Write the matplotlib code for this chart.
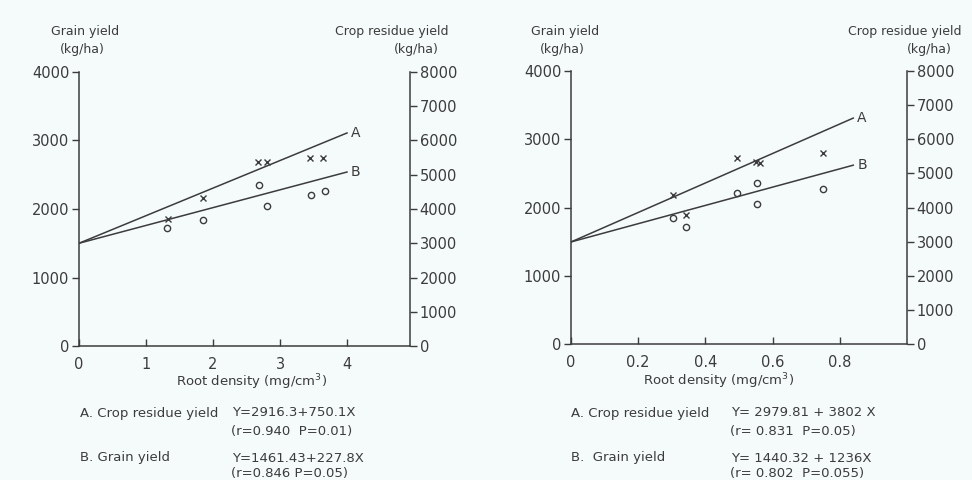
import numpy as np
import matplotlib
matplotlib.use('Agg')
import matplotlib.pyplot as plt

# ---- data ----
# left panel: root density (mg/cm3) over the full profile
left_x_res = [1.33, 1.85, 2.67, 2.81, 3.45, 3.64]
left_residue = [3710, 4320, 5370, 5370, 5490, 5490]
left_x_grain = [1.31, 1.85, 2.69, 2.81, 3.46, 3.67]
left_grain = [1720, 1840, 2350, 2040, 2200, 2260]
left_lineA_x = [0, 4.0]
left_lineA_y = [3000, 6220]     # crop residue (right axis)
left_lineB_x = [0, 4.0]
left_lineB_y = [1500, 2540]     # grain (left axis)

# right panel
right_x_res = [0.305, 0.343, 0.493, 0.552, 0.562, 0.75]
right_residue = [4360, 3780, 5450, 5330, 5290, 5590]
right_x_grain = [0.305, 0.343, 0.493, 0.555, 0.555, 0.75]
right_grain = [1845, 1715, 2210, 2360, 2050, 2270]
right_lineA_x = [0, 0.84]
right_lineA_y = [2990, 6620]
right_lineB_x = [0, 0.84]
right_lineB_y = [1495, 2620]

left_xticks = [0, 1, 2, 3, 4]
left_xticklabels = ['0', '1', '2', '3', '4']
right_xticks = [0, 0.2, 0.4, 0.6, 0.8]
right_xticklabels = ['0', '0.2', '0.4', '0.6', '0.8']
grain_ticks = [0, 1000, 2000, 3000, 4000]
residue_ticks = [0, 1000, 2000, 3000, 4000, 5000, 6000, 7000, 8000]

left_eqs = [('A. Crop residue yield', 'Y=2916.3+750.1X', '(r=0.940  P=0.01)'),
            ('B. Grain yield', 'Y=1461.43+227.8X', '(r=0.846 P=0.05)')]
right_eqs = [('A. Crop residue yield', 'Y= 2979.81 + 3802 X', '(r= 0.831  P=0.05)'),
             ('B.  Grain yield', 'Y= 1440.32 + 1236X', '(r= 0.802  P=0.055)')]

ink = '#3c3c3c'
bg = '#f5fafa'
W, H = 972, 480

fig = plt.figure(figsize=(9.72, 4.8), dpi=100)
fig.patch.set_facecolor(bg)


def ftext(x, y, s, **kw):
    # place text using pixel coords of the reference
    fig.text(x / W, 1 - y / H, s, color=ink, va='center', **kw)


def panel(rect, xmax, xticks, xticklabels, xr, yr, xg, yg, ax_, ay_, bx_, by_):
    ax = fig.add_axes(rect)
    ax.set_facecolor('none')
    ax2 = ax.twinx()
    ax.set_xlim(0, xmax)
    ax.set_ylim(0, 4000)
    ax2.set_ylim(0, 8000)
    for a in (ax, ax2):
        a.spines['top'].set_visible(False)
        for s in a.spines.values():
            s.set_color(ink)
            s.set_linewidth(1.1)
    ax.spines['right'].set_visible(False)
    ax2.spines['left'].set_visible(False)
    ax2.spines['bottom'].set_visible(False)

    ax.set_yticks(grain_ticks)
    ax2.set_yticks(residue_ticks)
    ax.set_xticks(xticks)
    ax.set_xticklabels(xticklabels)
    ax.tick_params(axis='y', direction='out', length=5, width=1, colors=ink,
                   labelsize=10.5, pad=2)
    ax2.tick_params(axis='y', direction='out', length=5, width=1, colors=ink,
                    labelsize=10.5, pad=2)
    ax.tick_params(axis='x', direction='in', length=5, width=1, colors=ink,
                   labelsize=10.5, pad=8)

    ax2.plot(ax_, ay_, color=ink, lw=1.1)
    ax.plot(bx_, by_, color=ink, lw=1.1)
    ax2.plot(xr, yr, ls='none', marker='x', ms=4.5, mew=1.0, color=ink)
    ax.plot(xg, yg, ls='none', marker='o', ms=4.5, mew=1.0, mfc='none', mec=ink)

    ax2.text(ax_[-1] + xmax * 0.012, ay_[-1], 'A', color=ink, fontsize=10,
             va='center', ha='left')
    ax.text(bx_[-1] + xmax * 0.012, by_[-1], 'B', color=ink, fontsize=10,
            va='center', ha='left')
    return ax


panel([79 / W, 1 - 346 / H, 331 / W, 274 / H], 4.94, left_xticks, left_xticklabels,
      left_x_res, left_residue, left_x_grain, left_grain,
      left_lineA_x, left_lineA_y, left_lineB_x, left_lineB_y)
panel([571 / W, 1 - 344 / H, 336 / W, 273 / H], 1.0, right_xticks, right_xticklabels,
      right_x_res, right_residue, right_x_grain, right_grain,
      right_lineA_x, right_lineA_y, right_lineB_x, right_lineB_y)

# axis titles
for xc_g, xc_r, off in [(85, 392, 0), (565, 905, 0)]:
    ftext(xc_g, 31, 'Grain yield', fontsize=9, ha='center')
    ftext(xc_g - 3, 50, '(kg/ha)', fontsize=9, ha='center')
    ftext(xc_r, 31, 'Crop residue yield', fontsize=9, ha='center')
    ftext(xc_r + 24, 50, '(kg/ha)', fontsize=9, ha='center')

ftext(252, 382, 'Root density (mg/cm$^3$)', fontsize=9.5, ha='center')
ftext(719, 381, 'Root density (mg/cm$^3$)', fontsize=9.5, ha='center')

# regression equations
for x0, x1, eqs in [(80, 232, left_eqs), (571, 731, right_eqs)]:
    (na, ya, ra), (nb, yb, rb) = eqs
    ftext(x0, 413, na, fontsize=9.5, ha='left')
    ftext(x1, 413, ya, fontsize=9.5, ha='left')
    ftext(x1 - 1, 432, ra, fontsize=9.5, ha='left')
    ftext(x0, 458, nb, fontsize=9.5, ha='left')
    ftext(x1, 458, yb, fontsize=9.5, ha='left')
    ftext(x1 - 1, 473, rb, fontsize=9.5, ha='left')

fig.savefig('out.png', dpi=100, facecolor=bg)
